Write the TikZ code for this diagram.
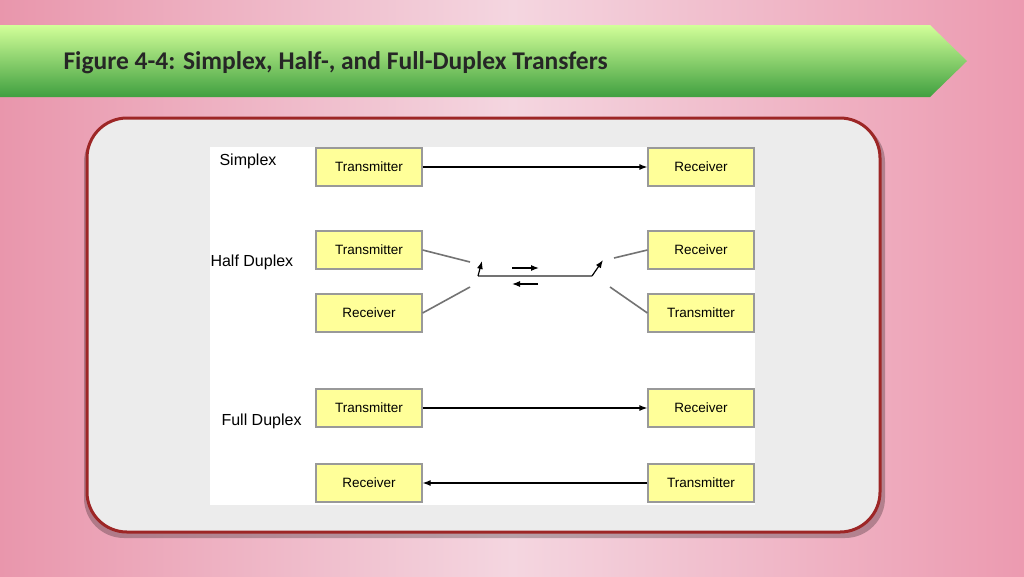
\documentclass[tikz,border=0pt]{standalone}
\usepackage{fontspec}
\usetikzlibrary{arrows.meta}
\setmainfont{Carlito}
\newfontfamily\arialf{Liberation Sans}
\definecolor{pinkA}{HTML}{E996AC}
\definecolor{pinkB}{HTML}{F4D6E0}
\definecolor{pinkC}{HTML}{EC9AB0}
\definecolor{boxY}{HTML}{FFFF99}
\begin{document}
\begin{tikzpicture}[x=1pt,y=-1pt,
 box/.style={draw=gray!80,line width=1.2pt,fill=boxY,minimum width=106pt,minimum height=38pt,inner sep=0pt,font=\arialf\fontsize{13.5}{15}\selectfont},
 lab/.style={anchor=west,font=\arialf\fontsize{16}{18}\selectfont},
 ln/.style={draw=gray!90!black,line width=1.6pt},
 ar/.style={black,line width=1.2pt,-{Latex[length=8pt,width=6pt]}}]
\useasboundingbox (0,0) rectangle (1024,576);
\shade[left color=pinkA, right color=pinkC, middle color=pinkB] (0,0) rectangle (1024,576);
% header
\shade[top color=green!25!lime!40!white, bottom color=green!50!black!75, draw=none]
 (0,25) -- (930,25) -- (967,61) -- (930,97) -- (0,97) -- cycle;
\node[anchor=west,font=\bfseries\fontsize{25.5}{28}\selectfont,text=black!85] (title) at (60,63) {Figure 4-4: Simplex, Half-, and Full-Duplex Transfers};
% panel
\fill[black,opacity=0.25,rounded corners=40] (84,122) rectangle (885,538);
\draw[fill=gray!15,draw=red!55!black!85,line width=3pt,rounded corners=40] (87,118) rectangle (880,532);
\fill[white] (210,147) rectangle (755,505);
% labels
\node[lab] (ls) at (216,161) {Simplex};
\node[lab] (lh) at (207,262) {Half Duplex};
\node[lab] (lf) at (218,421) {Full Duplex};
% boxes
\node[box] (st) at (369,167) {Transmitter};
\node[box] (sr) at (701,167) {Receiver};
\node[box] (ht) at (369,250) {Transmitter};
\node[box] (hr) at (369,313) {Receiver};
\node[box] (hr2) at (701,250) {Receiver};
\node[box] (ht2) at (701,313) {Transmitter};
\node[box] (ft) at (369,408) {Transmitter};
\node[box] (fr2) at (701,408) {Receiver};
\node[box] (fr) at (369,483) {Receiver};
\node[box] (ft2) at (701,483) {Transmitter};
% simplex & full
\draw[ar] (st) -- (sr);
\draw[ar] (ft.east) -- (fr2.west);
\draw[ar] (ft2) -- (fr);
% half duplex switch
\coordinate (a1) at (470,262); \coordinate (a2) at (470,287);
\coordinate (p1) at (478,276); \coordinate (p2) at (592,276);
\coordinate (b1) at (614,258); \coordinate (b2) at (610,287);
\draw[ln] (ht.east) -- (a1);
\draw[ln] (hr.east) -- (a2);
\draw[ln] (hr2.west) -- (b1);
\draw[ln] (ht2.west) -- (b2);
\draw[ln] (p1) -- (p2);
\draw[ar] (p2) -- (603,260);
\draw[ar] (p1) -- (482,261);
\coordinate (m1) at (512,268); \coordinate (m2) at (539,268);
\coordinate (n1) at (538,284); \coordinate (n2) at (512,284);
\draw[ar] (m1) -- (m2);
\draw[ar] (n1) -- (n2);
\end{tikzpicture}
\end{document}
